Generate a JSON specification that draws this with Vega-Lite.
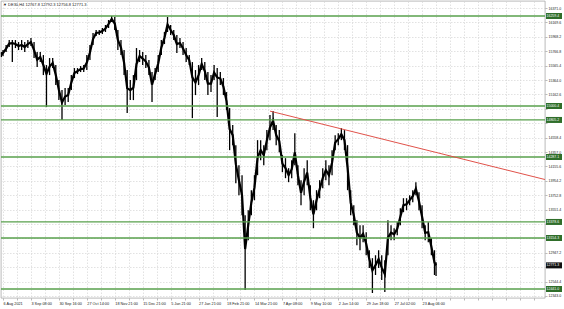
{
  "$schema": "https://vega.github.io/schema/vega-lite/v6.json",
  "autosize": {"type": "none"},
  "width": 544,
  "height": 297,
  "padding": {"left": 1, "top": 1, "right": 19, "bottom": 11},
  "background": "white",
  "config": {
    "view": {"stroke": "#8a8a8a", "strokeWidth": 0.6},
    "font": "Liberation Sans"
  },
  "title": {"text": "▼ DE30,H4  12767.8 12792.3 12756.8 12771.3", "anchor": "start", "frame": "group", "offset": -6, "fontSize": 4, "fontWeight": "normal", "color": "#222", "dx": 2},
  "resolve": {"axis": {"x": "independent", "y": "independent"}},
  "datasets": {
    "price": [
      {"t": -1, "hi": 15755, "lo": 15685, "c": 15720},
      {"t": 0, "hi": 15783, "lo": 15699, "c": 15741},
      {"t": 2, "hi": 15853, "lo": 15755, "c": 15804},
      {"t": 4, "hi": 15923, "lo": 15825, "c": 15874},
      {"t": 6, "hi": 15923, "lo": 15615, "c": 15880},
      {"t": 8, "hi": 15923, "lo": 15811, "c": 15867},
      {"t": 10, "hi": 15895, "lo": 15783, "c": 15839},
      {"t": 12, "hi": 15923, "lo": 15783, "c": 15853},
      {"t": 14, "hi": 15895, "lo": 15755, "c": 15825},
      {"t": 16, "hi": 15923, "lo": 15811, "c": 15867},
      {"t": 18, "hi": 15951, "lo": 15839, "c": 15895},
      {"t": 20, "hi": 15895, "lo": 15671, "c": 15783},
      {"t": 22, "hi": 15755, "lo": 15545, "c": 15650},
      {"t": 24, "hi": 15755, "lo": 15615, "c": 15685},
      {"t": 26, "hi": 15713, "lo": 15433, "c": 15573},
      {"t": 28, "hi": 15573, "lo": 14985, "c": 15450},
      {"t": 30, "hi": 15671, "lo": 15433, "c": 15552},
      {"t": 32, "hi": 15671, "lo": 15531, "c": 15601},
      {"t": 34, "hi": 15573, "lo": 15293, "c": 15433},
      {"t": 36, "hi": 15363, "lo": 15083, "c": 15223},
      {"t": 38, "hi": 15223, "lo": 14803, "c": 15050},
      {"t": 40, "hi": 15251, "lo": 15013, "c": 15132},
      {"t": 42, "hi": 15251, "lo": 15055, "c": 15153},
      {"t": 44, "hi": 15433, "lo": 15223, "c": 15328},
      {"t": 46, "hi": 15531, "lo": 15391, "c": 15461},
      {"t": 48, "hi": 15531, "lo": 15447, "c": 15489},
      {"t": 50, "hi": 15559, "lo": 15475, "c": 15517},
      {"t": 52, "hi": 15573, "lo": 15475, "c": 15524},
      {"t": 54, "hi": 15713, "lo": 15503, "c": 15608},
      {"t": 56, "hi": 15853, "lo": 15643, "c": 15748},
      {"t": 58, "hi": 16021, "lo": 15853, "c": 15937},
      {"t": 60, "hi": 16063, "lo": 15979, "c": 16021},
      {"t": 62, "hi": 16063, "lo": 15993, "c": 16028},
      {"t": 64, "hi": 16091, "lo": 16007, "c": 16049},
      {"t": 66, "hi": 16133, "lo": 16035, "c": 16084},
      {"t": 68, "hi": 16203, "lo": 16091, "c": 16147},
      {"t": 70, "hi": 16259, "lo": 16175, "c": 16217},
      {"t": 72, "hi": 16245, "lo": 16063, "c": 16154},
      {"t": 74, "hi": 16063, "lo": 15783, "c": 15923},
      {"t": 76, "hi": 15923, "lo": 15713, "c": 15818},
      {"t": 78, "hi": 15783, "lo": 15433, "c": 15608},
      {"t": 80, "hi": 15503, "lo": 14901, "c": 15250},
      {"t": 82, "hi": 15363, "lo": 15083, "c": 15223},
      {"t": 84, "hi": 15433, "lo": 15083, "c": 15258},
      {"t": 86, "hi": 15811, "lo": 15363, "c": 15587},
      {"t": 88, "hi": 15783, "lo": 15615, "c": 15699},
      {"t": 90, "hi": 15755, "lo": 15573, "c": 15664},
      {"t": 92, "hi": 15713, "lo": 15531, "c": 15622},
      {"t": 94, "hi": 15643, "lo": 15433, "c": 15538},
      {"t": 96, "hi": 15475, "lo": 15055, "c": 15300},
      {"t": 98, "hi": 15531, "lo": 15363, "c": 15447},
      {"t": 100, "hi": 15713, "lo": 15475, "c": 15594},
      {"t": 102, "hi": 15923, "lo": 15713, "c": 15818},
      {"t": 104, "hi": 16035, "lo": 15867, "c": 15951},
      {"t": 106, "hi": 16245, "lo": 16035, "c": 16140},
      {"t": 108, "hi": 16133, "lo": 15993, "c": 16063},
      {"t": 110, "hi": 16063, "lo": 15923, "c": 15993},
      {"t": 112, "hi": 15993, "lo": 15741, "c": 15867},
      {"t": 114, "hi": 15951, "lo": 15811, "c": 15881},
      {"t": 116, "hi": 15895, "lo": 15713, "c": 15804},
      {"t": 118, "hi": 15811, "lo": 15615, "c": 15713},
      {"t": 120, "hi": 15713, "lo": 15573, "c": 15643},
      {"t": 122, "hi": 15615, "lo": 14831, "c": 15400},
      {"t": 124, "hi": 15503, "lo": 15153, "c": 15328},
      {"t": 126, "hi": 15573, "lo": 15293, "c": 15433},
      {"t": 128, "hi": 15671, "lo": 15503, "c": 15587},
      {"t": 130, "hi": 15615, "lo": 15363, "c": 15489},
      {"t": 132, "hi": 15475, "lo": 15153, "c": 15314},
      {"t": 134, "hi": 15433, "lo": 15195, "c": 15314},
      {"t": 136, "hi": 15573, "lo": 15363, "c": 15468},
      {"t": 138, "hi": 15531, "lo": 14845, "c": 15400},
      {"t": 140, "hi": 15475, "lo": 15293, "c": 15384},
      {"t": 142, "hi": 15391, "lo": 15153, "c": 15272},
      {"t": 144, "hi": 15195, "lo": 14943, "c": 15069},
      {"t": 146, "hi": 14971, "lo": 14383, "c": 14677},
      {"t": 148, "hi": 14733, "lo": 14453, "c": 14593},
      {"t": 150, "hi": 14453, "lo": 13921, "c": 14187},
      {"t": 152, "hi": 14173, "lo": 13753, "c": 13963},
      {"t": 154, "hi": 14033, "lo": 13473, "c": 13753},
      {"t": 156, "hi": 13473, "lo": 12427, "c": 13000},
      {"t": 158, "hi": 13543, "lo": 13123, "c": 13333},
      {"t": 160, "hi": 13823, "lo": 13473, "c": 13648},
      {"t": 162, "hi": 14033, "lo": 13683, "c": 13858},
      {"t": 164, "hi": 14523, "lo": 14033, "c": 14278},
      {"t": 166, "hi": 14523, "lo": 14243, "c": 14383},
      {"t": 168, "hi": 14453, "lo": 14173, "c": 14313},
      {"t": 170, "hi": 14663, "lo": 14383, "c": 14523},
      {"t": 172, "hi": 14873, "lo": 14523, "c": 14698},
      {"t": 174, "hi": 14929, "lo": 14663, "c": 14796},
      {"t": 176, "hi": 14733, "lo": 14453, "c": 14593},
      {"t": 178, "hi": 14663, "lo": 14355, "c": 14509},
      {"t": 180, "hi": 14313, "lo": 14075, "c": 14194},
      {"t": 182, "hi": 14271, "lo": 13991, "c": 14131},
      {"t": 184, "hi": 14131, "lo": 13935, "c": 14033},
      {"t": 186, "hi": 14243, "lo": 13991, "c": 14117},
      {"t": 188, "hi": 14621, "lo": 14173, "c": 14350},
      {"t": 190, "hi": 14173, "lo": 13893, "c": 14033},
      {"t": 192, "hi": 13963, "lo": 13613, "c": 13788},
      {"t": 194, "hi": 14131, "lo": 13753, "c": 13942},
      {"t": 196, "hi": 14243, "lo": 13893, "c": 14068},
      {"t": 198, "hi": 13893, "lo": 13543, "c": 13718},
      {"t": 200, "hi": 13683, "lo": 13291, "c": 13487},
      {"t": 202, "hi": 13823, "lo": 13543, "c": 13683},
      {"t": 204, "hi": 13963, "lo": 13711, "c": 13837},
      {"t": 206, "hi": 14131, "lo": 13851, "c": 13991},
      {"t": 208, "hi": 14243, "lo": 13963, "c": 14103},
      {"t": 210, "hi": 14173, "lo": 13893, "c": 14033},
      {"t": 212, "hi": 14383, "lo": 14033, "c": 14208},
      {"t": 214, "hi": 14593, "lo": 14383, "c": 14488},
      {"t": 216, "hi": 14621, "lo": 14453, "c": 14537},
      {"t": 218, "hi": 14691, "lo": 14523, "c": 14607},
      {"t": 220, "hi": 14663, "lo": 14383, "c": 14523},
      {"t": 222, "hi": 14453, "lo": 13823, "c": 14138},
      {"t": 224, "hi": 13823, "lo": 13473, "c": 13648},
      {"t": 226, "hi": 13613, "lo": 13333, "c": 13473},
      {"t": 228, "hi": 13403, "lo": 13053, "c": 13228},
      {"t": 230, "hi": 13333, "lo": 12983, "c": 13158},
      {"t": 232, "hi": 13333, "lo": 13095, "c": 13214},
      {"t": 234, "hi": 13235, "lo": 12913, "c": 13074},
      {"t": 236, "hi": 12983, "lo": 12735, "c": 12859},
      {"t": 238, "hi": 12872, "lo": 12385, "c": 12700},
      {"t": 240, "hi": 12913, "lo": 12637, "c": 12775},
      {"t": 242, "hi": 12983, "lo": 12735, "c": 12859},
      {"t": 244, "hi": 12913, "lo": 12567, "c": 12740},
      {"t": 246, "hi": 12844, "lo": 12399, "c": 12650},
      {"t": 248, "hi": 13403, "lo": 12913, "c": 13158},
      {"t": 250, "hi": 13333, "lo": 13123, "c": 13228},
      {"t": 252, "hi": 13291, "lo": 13123, "c": 13207},
      {"t": 254, "hi": 13375, "lo": 13193, "c": 13284},
      {"t": 256, "hi": 13571, "lo": 13333, "c": 13452},
      {"t": 258, "hi": 13711, "lo": 13515, "c": 13613},
      {"t": 260, "hi": 13711, "lo": 13543, "c": 13627},
      {"t": 262, "hi": 13753, "lo": 13613, "c": 13683},
      {"t": 264, "hi": 13823, "lo": 13655, "c": 13739},
      {"t": 266, "hi": 13935, "lo": 13753, "c": 13844},
      {"t": 268, "hi": 13795, "lo": 13543, "c": 13669},
      {"t": 270, "hi": 13613, "lo": 13291, "c": 13452},
      {"t": 272, "hi": 13333, "lo": 13123, "c": 13228},
      {"t": 274, "hi": 13375, "lo": 13095, "c": 13235},
      {"t": 276, "hi": 13151, "lo": 12913, "c": 13032},
      {"t": 278, "hi": 12983, "lo": 12637, "c": 12810},
      {"t": 279, "hi": 12816, "lo": 12623, "c": 12771}
    ],
    "levels": [
      {"v": 16259.4}, {"v": 15000.4}, {"v": 14805.2}, {"v": 14287.1}, {"v": 13378.6}, {"v": 13154.3}, {"v": 12441.0}
    ],
    "trend": [
      {"t": 172, "v": 14929},
      {"t": 349.2, "v": 13972}
    ],
    "last": [{"v": 12771.3}]
  },
  "layer": [
    {
      "data": {"name": "price"},
      "mark": {"type": "rule", "color": "#000000", "strokeWidth": 1.3},
      "encoding": {
        "x": {
          "field": "t", "type": "quantitative",
          "scale": {"domain": [-1.3, 349.2], "nice": false, "zero": false},
          "axis": {
            "title": null, "domain": false, "labelOverlap": false, "labelFlush": false, "labelBound": false,
            "values": [0, 9, 18, 27, 36, 45, 54, 63, 72, 81, 90, 99, 108, 117, 126, 135, 144, 153, 162, 171, 180, 189, 198, 207, 216, 225, 234, 243, 252, 261, 270, 279, 288, 297, 306, 315, 324, 333, 342],
            "labelExpr": "(datum.value % 18 == 0 && datum.value <= 270) ? ['6 Aug 2021','3 Sep 08:00','30 Sep 16:00','27 Oct 14:00','18 Nov 21:00','15 Dec 21:00','5 Jan 21:00','27 Jan 21:00','18 Feb 21:00','14 Mar 21:00','7 Apr 08:00','9 May 10:00','2 Jun 14:00','29 Jun 18:00','27 Jul 02:00','23 Aug 06:00'][datum.value / 18] : ''",
            "labelFontSize": 3.8, "labelAlign": "left", "labelColor": "#222", "labelPadding": 1,
            "tickSize": 2, "tickColor": "#777", "tickWidth": 0.5,
            "grid": true, "gridColor": "#d6d6d6", "gridDash": [1.5, 1.5], "gridWidth": 0.7
          }
        },
        "y": {
          "field": "hi", "type": "quantitative",
          "scale": {"domain": [12315, 16469], "nice": false, "zero": false},
          "axis": {
            "title": null, "orient": "right", "domain": false, "labelOverlap": false, "labelFlush": false, "labelBound": false,
            "values": [12343.0, 12544.4, 12745.8, 12947.2, 13148.6, 13350.0, 13551.4, 13752.8, 13954.2, 14155.6, 14357.0, 14558.4, 14759.8, 14961.2, 15162.6, 15364.0, 15565.4, 15766.8, 15968.2, 16169.6, 16371.0],
            "labelExpr": "(abs(datum.value - 15000.4) < 60 || abs(datum.value - 14805.2) < 60 || abs(datum.value - 13378.6) < 60 || abs(datum.value - 13154.3) < 60 || abs(datum.value - 12771.3) < 60) ? '' : format(datum.value, '.1f')",
            "labelFontSize": 3.5, "labelColor": "#222", "labelPadding": 1,
            "tickSize": 2, "tickColor": "#777", "tickWidth": 0.5,
            "grid": true, "gridColor": "#d6d6d6", "gridDash": [1.5, 1.5], "gridWidth": 0.7
          }
        },
        "y2": {"field": "lo"}
      }
    },
    {
      "data": {"name": "price"},
      "mark": {"type": "line", "color": "#000000", "strokeWidth": 2.2, "interpolate": "linear"},
      "encoding": {
        "x": {"field": "t", "type": "quantitative", "axis": null},
        "y": {"field": "c", "type": "quantitative", "axis": null}
      }
    },
    {
      "data": {"name": "levels"},
      "mark": {"type": "rule", "color": "#58a04c", "strokeWidth": 1.3},
      "encoding": {
        "y": {"field": "v", "type": "quantitative", "axis": null}
      }
    },
    {
      "data": {"name": "trend"},
      "mark": {"type": "line", "color": "#e0524a", "strokeWidth": 1},
      "encoding": {
        "x": {"field": "t", "type": "quantitative", "axis": null},
        "y": {"field": "v", "type": "quantitative", "axis": null}
      }
    },
    {
      "data": {"name": "levels"},
      "mark": {"type": "tick", "orient": "horizontal", "size": 16, "thickness": 6, "color": "#2f6e2a", "opacity": 1},
      "encoding": {
        "x": {"datum": 355.0, "type": "quantitative", "axis": null},
        "y": {"field": "v", "type": "quantitative", "axis": null}
      }
    },
    {
      "data": {"name": "levels"},
      "mark": {"type": "text", "align": "left", "baseline": "middle", "dx": 1.5, "fontSize": 3.5, "color": "#ffffff"},
      "encoding": {
        "x": {"datum": 349.2, "type": "quantitative", "axis": null},
        "y": {"field": "v", "type": "quantitative", "axis": null},
        "text": {"field": "v", "type": "quantitative", "format": ".1f"}
      }
    },
    {
      "data": {"name": "last"},
      "mark": {"type": "tick", "orient": "horizontal", "size": 16, "thickness": 6, "color": "#111111", "opacity": 1},
      "encoding": {
        "x": {"datum": 355.0, "type": "quantitative", "axis": null},
        "y": {"field": "v", "type": "quantitative", "axis": null}
      }
    },
    {
      "data": {"name": "last"},
      "mark": {"type": "text", "align": "left", "baseline": "middle", "dx": 1.5, "fontSize": 3.5, "color": "#ffffff"},
      "encoding": {
        "x": {"datum": 349.2, "type": "quantitative", "axis": null},
        "y": {"field": "v", "type": "quantitative", "axis": null},
        "text": {"field": "v", "type": "quantitative", "format": ".1f"}
      }
    }
  ]
}
